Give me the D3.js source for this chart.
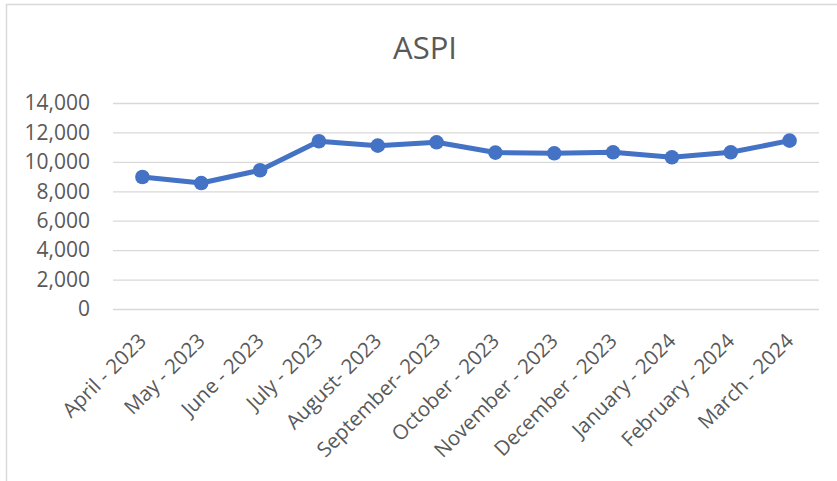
<!DOCTYPE html>
<html>
<head>
<meta charset="utf-8">
<script src="https://cdn.jsdelivr.net/npm/d3@7"></script>
<style>
  body { margin: 0; background: #fff; }
  svg { display: block; }
  svg text { font-family: 'Open Sans', sans-serif; }
</style>
</head>
<body>
<div id="myPlot"></div>
<script>
const months = ['April - 2023', 'May - 2023', 'June - 2023', 'July - 2023', 'August- 2023',
  'September- 2023', 'October - 2023', 'November - 2023', 'December - 2023',
  'January - 2024', 'February - 2024', 'March - 2024'];
const aspi = [8970, 8560, 9430, 11400, 11100, 11330, 10630, 10580, 10650, 10310, 10650, 11440];
const yTicks = [0, 2000, 4000, 6000, 8000, 10000, 12000, 14000];

const width = 837, height = 481;
const margin = {top: 103, right: 18, bottom: 172, left: 113};

const svg = d3.select('#myPlot')
  .append('svg')
    .attr('width', width)
    .attr('height', height);

// chart frame (only left and top edges show in the crop)
svg.append('path')
  .attr('d', 'M6.5,' + height + 'V4.5H' + width)
  .attr('fill', 'none')
  .attr('stroke', '#d9d9d9')
  .attr('stroke-width', 1.5);

// title
svg.append('text')
  .attr('x', 425)
  .attr('y', 59)
  .attr('text-anchor', 'middle')
  .attr('fill', '#595959')
  .style('font-size', '31px')
  .text('ASPI');

const x = d3.scaleBand()
  .domain(months)
  .range([margin.left, width - margin.right]);

const y = d3.scaleLinear()
  .domain([0, 14000])
  .range([height - margin.bottom, margin.top]);

// gridlines + y labels
const yAxis = svg.append('g')
  .attr('transform', 'translate(' + margin.left + ',0)')
  .call(d3.axisLeft(y).tickValues(yTicks).tickSize(-(width - margin.left - margin.right))
    .tickFormat(d3.format(',')).tickPadding(23));
yAxis.select('.domain').remove();
yAxis.selectAll('.tick line')
  .attr('stroke', '#d9d9d9')
  .attr('stroke-width', 1.3);
yAxis.selectAll('.tick text')
  .attr('fill', '#595959')
  .style('font-size', '21px');

// x labels
const xAxis = svg.append('g')
  .attr('transform', 'translate(0,' + (height - margin.bottom) + ')')
  .call(d3.axisBottom(x).tickSize(0));
xAxis.select('.domain').remove();
xAxis.selectAll('.tick text')
  .attr('fill', '#595959')
  .style('font-size', '20.5px')
  .attr('text-anchor', 'end')
  .attr('dy', 0)
  .attr('transform', 'translate(3,31) rotate(-45)');

// line
const cx = (d, i) => x(months[i]) + x.bandwidth() / 2;
const line = d3.line()
  .x(cx)
  .y(d => y(d));

svg.append('path')
  .datum(aspi)
  .attr('d', line)
  .attr('fill', 'none')
  .attr('stroke', '#4472c4')
  .attr('stroke-width', 5)
  .attr('stroke-linejoin', 'round');

svg.selectAll('circle.pt')
  .data(aspi)
  .enter()
  .append('circle')
  .attr('class', 'pt')
  .attr('cx', cx)
  .attr('cy', d => y(d))
  .attr('r', 7.3)
  .attr('fill', '#4472c4');
</script>
</body>
</html>
